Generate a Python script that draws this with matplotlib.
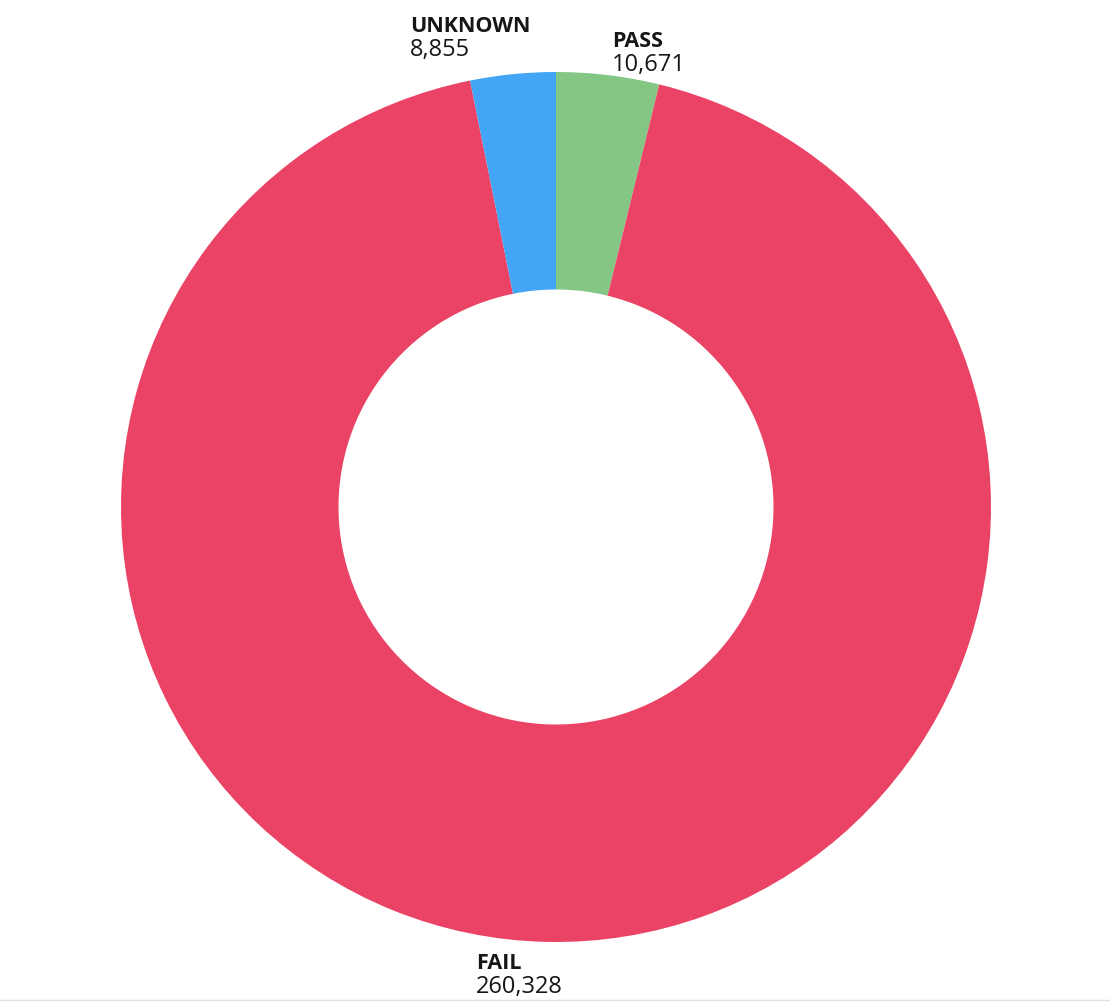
import matplotlib
matplotlib.use("Agg")
import matplotlib.pyplot as plt

# data
categories = ["PASS", "FAIL", "UNKNOWN"]
counts = [10671, 260328, 8855]
colors = ["#84C785", "#EA4366", "#42A5F5"]

# label anchor (left, top) in pixels from top-left of the image
label_pos = {"UNKNOWN": (410, 16), "PASS": (612, 31), "FAIL": (476, 953)}

W, H = 1110, 1004
fig = plt.figure(figsize=(W / 100, H / 100), dpi=100)
ax = fig.add_axes([0, 0, 1, 1])

cx, cy, r = 556, H - 508, 435
ax.pie(counts, colors=colors, startangle=90, counterclock=False,
       center=(cx, cy), radius=r, frame=True,
       wedgeprops=dict(width=r * 0.5, linewidth=0))
ax.set_xlim(0, W)
ax.set_ylim(0, H)
ax.set_aspect("equal")
ax.axis("off")

font = "Open Sans"
for name, val in zip(categories, counts):
    x, y = label_pos[name]
    ax.text(x, H - y, name, ha="left", va="top", fontsize=15.5,
            fontweight="bold", family=font, color="#161616")
    ax.text(x, H - y - 22, f"{val:,}", ha="left", va="top", fontsize=17,
            family=font, color="#161616")

# faint baseline at bottom
ax.axhline(H - 1001, color="#e0e0e0", linewidth=1)

fig.savefig("out.png", dpi=100)
